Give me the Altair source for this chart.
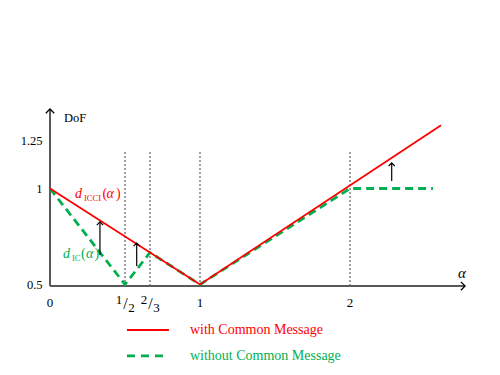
import altair as alt
import pandas as pd

SERIF = "Liberation Serif"
RED = "#ff0000"
GREEN = "#00b050"
AXIS_GRAY = "#595959"

# ---- data ----
red_alpha = [0.0, 1.0, 2.607]
red_dof = [1.0, 0.5, 1.33]
green_alpha = [0.0, 0.5, 2 / 3, 1.0, 2.0, 2.553]
green_dof = [1.0, 0.5, 2 / 3, 0.5, 1.0, 1.0]
vline_alpha = [0.5, 2 / 3, 1.0, 2.0]
vline_top = 1.2
arrow_alpha = [0.333, 0.578, 2.278]
arrow_from = [0.654, 0.596, 1.039]
arrow_to = [0.826, 0.716, 1.133]
y_ticks = [0.5, 1.0, 1.25]
x_tick_pos = [0, 1, 2]
x_tick_text = ["0", "1", "2"]
frac_pos = [0.5, 2 / 3]
frac_num = ["1", "2"]
frac_den = ["2", "3"]
legend_labels = ["with Common Message", "without Common Message"]

# ---- annotation anchors (data units) ----
axis_y = 0.492
yaxis_top = 1.414
xaxis_end = 2.767
xlab_y = 0.404
legend_y = [0.263, 0.128]
legend_x0, legend_x1, legend_tx = 0.513, 0.793, 0.933

xs = alt.Scale(domain=[0, 442 / 150], nice=False, zero=False)
ys = alt.Scale(domain=[0.0703, 1.9401], nice=False, zero=False)
yaxis = alt.Axis(values=y_ticks, labelExpr="'' + datum.value", labelFont=SERIF, labelFontSize=12.5,
                 labelColor="black", labelPadding=8, domain=False, ticks=False,
                 grid=False, title=None)


def X(f):
    return alt.X(f, type="quantitative", scale=xs, axis=None)


def Y(f):
    return alt.Y(f, type="quantitative", scale=ys, axis=yaxis)


layers = []

# vertical dotted guides
vdf = pd.DataFrame({"a": vline_alpha, "d0": [axis_y] * len(vline_alpha), "d1": [vline_top] * len(vline_alpha)})
layers.append(alt.Chart(vdf).mark_rule(color="#808080", strokeWidth=1.5, strokeDash=[2, 2]).encode(
    x=X("a"), y=Y("d0"), y2="d1"))

# axes lines
layers.append(alt.Chart(pd.DataFrame({"a": [0.0], "d0": [axis_y], "d1": [yaxis_top]})).mark_rule(
    color=AXIS_GRAY, strokeWidth=2).encode(x=X("a"), y=Y("d0"), y2="d1"))
layers.append(alt.Chart(pd.DataFrame({"a0": [0.0], "a1": [xaxis_end], "d": [axis_y]})).mark_rule(
    color=AXIS_GRAY, strokeWidth=2).encode(x=X("a0"), x2="a1", y=Y("d")))
# axis arrowheads
layers.append(alt.Chart(pd.DataFrame({"a": [0.0], "d": [yaxis_top]})).mark_point(
    shape="M -1 1 L 0 0 L 1 1", filled=False, size=70, color="black", strokeWidth=1.3, opacity=1).encode(
    x=X("a"), y=Y("d")))
layers.append(alt.Chart(pd.DataFrame({"a": [xaxis_end], "d": [axis_y]})).mark_point(
    shape="M -1 -1 L 0 0 L -1 1", filled=False, size=70, color="black", strokeWidth=1.3, opacity=1).encode(
    x=X("a"), y=Y("d")))

# series
gdf = pd.DataFrame({"a": green_alpha, "d": green_dof, "o": range(len(green_alpha))})
layers.append(alt.Chart(gdf).mark_line(color=GREEN, strokeWidth=2.8, strokeDash=[8, 5]).encode(
    x=X("a"), y=Y("d"), order="o:O"))
rdf = pd.DataFrame({"a": red_alpha, "d": red_dof, "o": range(len(red_alpha))})
layers.append(alt.Chart(rdf).mark_line(color=RED, strokeWidth=1.8).encode(
    x=X("a"), y=Y("d"), order="o:O"))

# black improvement arrows
adf = pd.DataFrame({"a": arrow_alpha, "d0": arrow_from, "d1": arrow_to})
layers.append(alt.Chart(adf).mark_rule(color="black", strokeWidth=1.2).encode(x=X("a"), y=Y("d0"), y2="d1"))
layers.append(alt.Chart(adf).mark_point(shape="M -1 1 L 0 0 L 1 1", filled=False, size=40,
                                        color="black", strokeWidth=1.2, opacity=1).encode(x=X("a"), y=Y("d1")))

# x tick labels
layers.append(alt.Chart(pd.DataFrame({"a": x_tick_pos, "d": [xlab_y] * 3, "t": x_tick_text})).mark_text(
    font=SERIF, fontSize=13, color="black", baseline="middle").encode(x=X("a"), y=Y("d"), text="t:N"))
fdf = pd.DataFrame({"a": frac_pos, "d": [xlab_y] * 2, "n": frac_num, "m": frac_den, "s": ["/", "/"]})
layers.append(alt.Chart(fdf).mark_text(font=SERIF, fontSize=13, color="black", baseline="middle",
                                       dx=-6, dy=-2.5).encode(x=X("a"), y=Y("d"), text="n:N"))
layers.append(alt.Chart(fdf).mark_text(font=SERIF, fontSize=16, color="black", baseline="middle",
                                       dx=0.5, dy=1).encode(x=X("a"), y=Y("d"), text="s:N"))
layers.append(alt.Chart(fdf).mark_text(font=SERIF, fontSize=13, color="black", baseline="middle",
                                       dx=6.5, dy=5).encode(x=X("a"), y=Y("d"), text="m:N"))

# axis titles
layers.append(alt.Chart(pd.DataFrame({"a": [0.0933], "d": [1.367], "t": ["DoF"]})).mark_text(
    font=SERIF, fontSize=12.5, color="black", align="left", baseline="middle").encode(
    x=X("a"), y=Y("d"), text="t:N"))
layers.append(alt.Chart(pd.DataFrame({"a": [2.747], "d": [0.56], "t": ["α"]})).mark_text(
    font=SERIF, fontSize=15, fontStyle="italic", color="black", align="center", baseline="middle").encode(
    x=X("a"), y=Y("d"), text="t:N"))

# curve labels d_ICCI(α), d_IC(α)
ital = pd.DataFrame({"a": [0.1667, 0.3767, 0.0867, 0.24], "d": [0.9505, 0.9505, 0.638, 0.638],
                     "t": ["d", "α", "d", "α"], "c": [RED, RED, GREEN, GREEN]})
norm = pd.DataFrame({"a": [0.35, 0.44, 0.2067, 0.2967], "d": [0.9505, 0.9505, 0.638, 0.638],
                     "t": ["(", ")", "(", ")"], "c": [RED, RED, GREEN, GREEN]})
sub = pd.DataFrame({"a": [0.2267, 0.1467], "d": [0.935, 0.6224], "t": ["ICCI", "IC"], "c": [RED, GREEN]})
for df, kw in [(ital, dict(fontSize=14, fontStyle="italic")), (norm, dict(fontSize=14)),
               (sub, dict(fontSize=8.5))]:
    layers.append(alt.Chart(df).mark_text(font=SERIF, align="left", baseline="alphabetic", **kw).encode(
        x=X("a"), y=Y("d"), text="t:N", color=alt.Color("c:N", scale=None)))

# legend
ldf = pd.DataFrame({"a0": [legend_x0, legend_x0], "a1": [legend_x1, legend_x1], "d": legend_y,
                    "t": legend_labels, "at": [legend_tx, legend_tx], "c": [RED, GREEN]})
layers.append(alt.Chart(ldf.iloc[[0]]).mark_rule(color=RED, strokeWidth=1.8).encode(
    x=X("a0"), x2="a1", y=Y("d")))
layers.append(alt.Chart(ldf.iloc[[1]]).mark_rule(color=GREEN, strokeWidth=2.8, strokeDash=[8, 6]).encode(
    x=X("a0"), x2="a1", y=Y("d")))
layers.append(alt.Chart(ldf).mark_text(font=SERIF, fontSize=14, align="left", baseline="middle").encode(
    x=X("at"), y=Y("d"), text="t:N", color=alt.Color("c:N", scale=None)))

chart = alt.layer(*layers).properties(
    width=442, height=359,
    padding={"left": 42, "top": 0, "right": 0, "bottom": 0},
    autosize="none",
).configure_view(stroke=None)

chart.save("out.html", embed_options={"renderer": "svg", "actions": False})
